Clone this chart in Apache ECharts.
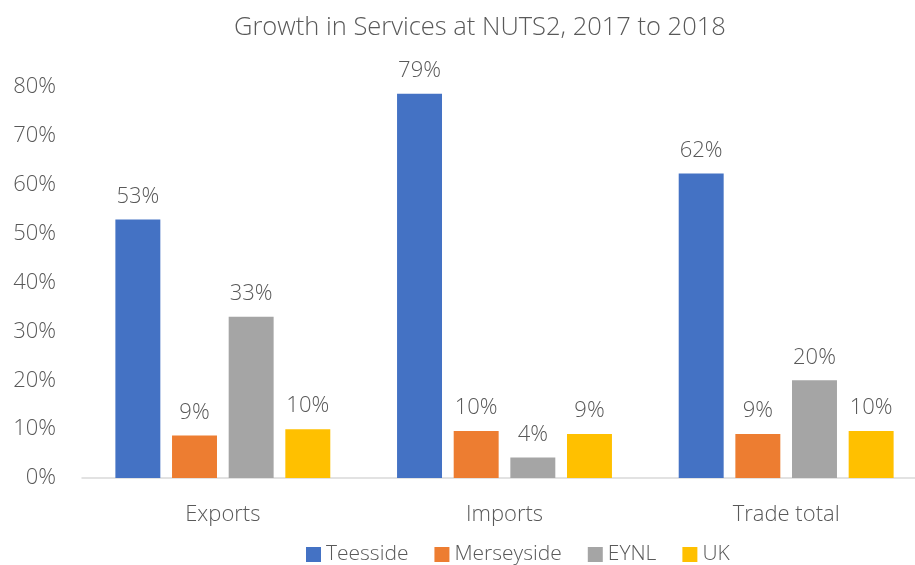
<!DOCTYPE html>
<html>
<head>
<meta charset="utf-8">
<script src="https://cdn.jsdelivr.net/npm/echarts@6/dist/echarts.min.js"></script>
<style>
  html, body { margin: 0; padding: 0; background: #fff; }
  #chart { width: 915px; height: 565px; }
</style>
</head>
<body>
<div id="chart"></div>
<script>
// Growth in services trade, 2017 to 2018 (percent)
const categories = ['Exports', 'Imports', 'Trade total'];
const seriesNames = ['Teesside', 'Merseyside', 'EYNL', 'UK'];
const teesside   = [52.9, 78.6, 62.3];
const merseyside = [8.7, 9.6, 9.0];
const eynl       = [33.0, 4.2, 20.0];
const uk         = [10.0, 9.0, 9.6];
const yTicks = [0, 10, 20, 30, 40, 50, 60, 70, 80];

const colors = ['#4472C4', '#ED7D31', '#A5A5A5', '#FFC000'];
const textColor = '#595959';
const fontFamily = '"Open Sans", "Noto Sans", sans-serif';

const values = [teesside, merseyside, eynl, uk];

const chart = echarts.init(document.getElementById('chart'), null, { renderer: 'canvas' });

chart.setOption({
  animation: false,
  color: colors,
  textStyle: { fontFamily: fontFamily, color: textColor },
  title: {
    text: 'Growth in Services at NUTS2, 2017 to 2018',
    left: 229,
    top: 10,
    textStyle: { fontFamily: fontFamily, fontSize: 25.5, fontWeight: 300, color: textColor }
  },
  legend: {
    data: seriesNames,
    left: 306,
    top: 544,
    padding: 0,
    icon: 'rect',
    itemWidth: 15,
    itemHeight: 15,
    itemGap: 26,
    textStyle: { fontFamily: fontFamily, fontSize: 21, fontWeight: 300, color: textColor }
  },
  // the plot runs a little past the right edge of the canvas
  grid: { left: 82, width: 845, top: 87, bottom: 87, containLabel: false, outerBoundsMode: 'none' },
  xAxis: {
    type: 'category',
    data: categories,
    axisLine: { lineStyle: { color: '#D9D9D9', width: 1.5 } },
    axisTick: { show: false },
    axisLabel: { fontSize: 22, fontWeight: 300, color: textColor, margin: 26 }
  },
  yAxis: {
    type: 'value',
    min: yTicks[0],
    max: yTicks[yTicks.length - 1],
    interval: yTicks[1] - yTicks[0],
    splitLine: { show: false },
    axisLine: { show: false },
    axisTick: { show: false },
    axisLabel: {
      fontSize: 22, fontWeight: 300, color: textColor, margin: 26,
      formatter: v => v + '%'
    }
  },
  series: seriesNames.map((name, i) => ({
    name: name,
    type: 'bar',
    data: values[i],
    barGap: '26%',
    barCategoryGap: '23.7%',
    label: {
      show: true,
      position: 'top',
      distance: 12,
      fontSize: 22,
      fontWeight: 300,
      color: textColor,
      formatter: p => Math.round(p.value) + '%'
    }
  }))
});
</script>
</body>
</html>
